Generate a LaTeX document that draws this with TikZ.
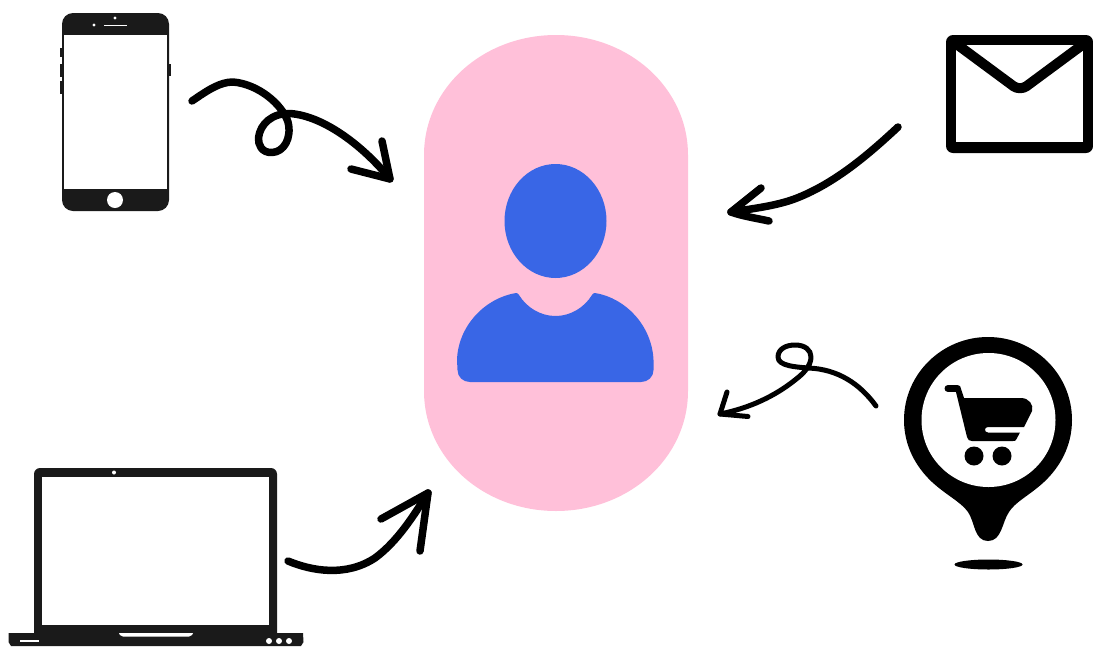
\documentclass[tikz,border=0pt]{standalone}
\definecolor{pillpink}{HTML}{FFC0D9}
\definecolor{userblue}{HTML}{3966E6}
\definecolor{devblack}{HTML}{1A1A1A}
\tikzset{
  thickarrow/.style={draw=black,line width=7.5pt,line cap=round,line join=round},
  thinarrow/.style={draw=black,line width=5pt,line cap=round,line join=round},
  dev/.style={fill=devblack,draw=none},
  hole/.style={fill=white,draw=none},
  ink/.style={fill=black,draw=none},
  blue/.style={fill=userblue,draw=none}
}
\begin{document}
\begin{tikzpicture}[x=1pt,y=-1pt]
\useasboundingbox (0,0) rectangle (1093,646);
% named anchors
\coordinate (phoneOut) at (192,101);
\coordinate (phoneIn) at (390,179);
\coordinate (laptopOut) at (288,561);
\coordinate (laptopIn) at (428,493);
\coordinate (mailOut) at (898,127);
\coordinate (mailIn) at (731,212);
\coordinate (cartOut) at (876,406);
\coordinate (cartIn) at (720,414);
% pill
\fill[pillpink] (424,155) .. controls (424,88) and (483,35) .. (556,35)
  .. controls (629,35) and (688,88) .. (688,155) -- (688,391)
  .. controls (688,458) and (629,511) .. (556,511)
  .. controls (483,511) and (424,458) .. (424,391) -- cycle;
% user
\fill[blue] (555.5,221) ellipse [x radius=51pt,y radius=57pt];
\fill[blue] (457,360) .. controls (458,326) and (485,298) .. (516,293)
  .. controls (517.5,293) and (518,293.5) .. (519,295)
  .. controls (527,308) and (541,316) .. (555.5,316)
  .. controls (570,316) and (584,308) .. (592,295)
  .. controls (593,293.5) and (593.5,293) .. (595,293)
  .. controls (626,298) and (652,326) .. (653.5,360)
  -- (653.5,370) .. controls (653.5,377) and (648,382) .. (641,382)
  -- (470,382) .. controls (463,382) and (457.5,377) .. (457.5,370) -- cycle;
% phone
\fill[dev] (60,48) rectangle (62.5,57);
\fill[dev] (60,64) rectangle (62.5,77);
\fill[dev] (60,81) rectangle (62.5,94);
\fill[dev] (168,64) rectangle (171,76);
\fill[dev,rounded corners=11pt] (62,13) rectangle (169,211);
\fill[hole] (64,35) rectangle (166.5,188.5);
\fill[hole] (115,200) circle (8pt);
\fill[hole] (115,18) circle (1.6pt);
\fill[hole] (94,25) circle (1.6pt);
\fill[hole] (104,24.5) rectangle (127,25.7);
% laptop
\fill[dev,rounded corners=6pt] (34,468) rectangle (277,640);
\fill[hole] (42,477) rectangle (269,625);
\fill[dev] (8.5,633) -- (303,633) -- (303.5,642) -- (301,646) -- (11,646) -- (8.5,642) -- cycle;
\fill[hole] (119,633) -- (193,633) -- (192,635) -- (189,636.5) -- (123,636.5) -- (120,635) -- cycle;
\fill[hole] (20,640) rectangle (39,642);
\fill[hole] (269,641) circle (3pt);
\fill[hole] (279,641) circle (3pt);
\fill[hole] (289,641) circle (3pt);
\fill[hole] (114,472.5) circle (2pt);
% envelope
\fill[ink,rounded corners=7pt] (946,35) rectangle (1093,153);
\fill[hole] (956,45) rectangle (1083,142);
\draw[black,line width=10pt,line join=round,rounded corners=8pt] (951,40) -- (1020,91) -- (1089,40);
% map pin
\fill[ink] (988,337) .. controls (1034,337) and (1072,374) .. (1072,420)
  .. controls (1072,446) and (1060,467) .. (1044,482)
  .. controls (1030,495) and (1015,502) .. (1009,512)
  .. controls (1002,522) and (1002,541) .. (988,541)
  .. controls (974,541) and (975,522) .. (968,512)
  .. controls (961,502) and (946,495) .. (932,482)
  .. controls (916,467) and (904,446) .. (904,420)
  .. controls (904,374) and (942,337) .. (988,337) -- cycle;
\fill[hole] (988.5,420) circle (67pt);
\fill[ink] (988.5,564.5) ellipse [x radius=34pt,y radius=5pt];
% cart
\draw[black,line width=7pt,line cap=round,line join=round] (948,388.5) -- (957,388.5);
\fill[ink] (956,385) -- (960,386) -- (964,398) -- (1021,398)
  .. controls (1029,398) and (1034,405) .. (1032,411)
  -- (1024,427) -- (988,427) .. controls (984,427) and (984,432.5) .. (988,432.5)
  -- (1020,432.5) -- (1016.5,439) .. controls (1015.5,441) and (1015,441) .. (1013,441)
  -- (972,441) .. controls (969,441) and (968,440) .. (967,437) -- (955,388) -- cycle;
\fill[ink] (974,456) circle (9.5pt);
\fill[ink] (1002,456) circle (9.5pt);
% arrow phone
\draw[thickarrow] (phoneOut) .. controls (208,90) and (220,82) .. (233,82)
  .. controls (258,84) and (282,104) .. (288,122)
  .. controls (292,138) and (284,152) .. (272,152.5)
  .. controls (262,153) and (258,145) .. (258.5,138)
  .. controls (260,124) and (272,113) .. (290,113.5)
  .. controls (325,116) and (365,148) .. (phoneIn);
\draw[thickarrow] (382,141) -- (phoneIn) -- (351,169);
% arrow laptop
\draw[thickarrow] (laptopOut) .. controls (312,571) and (346,577) .. (375,558)
  .. controls (398,541) and (414,515) .. (laptopIn);
\draw[thickarrow] (381,519) -- (laptopIn) -- (420,551);
% arrow mail
\draw[thickarrow] (mailOut) .. controls (868,155) and (835,183) .. (797,198)
  .. controls (777,206) and (750,209) .. (mailIn);
\draw[thickarrow] (761,188) -- (mailIn) .. controls (742,216) and (755,218) .. (769,221);
% arrow cart
\draw[thinarrow] (cartOut) .. controls (860,384) and (838,369) .. (808,368)
  .. controls (796,367) and (778,366) .. (778,357)
  .. controls (778,349) and (786,345) .. (795,345)
  .. controls (805,345) and (811,350) .. (811,357)
  .. controls (811,366) and (803,374) .. (795,380)
  .. controls (775,396) and (750,408) .. (cartIn);
\draw[thinarrow] (727,392) -- (cartIn) -- (748,416.5);
\end{tikzpicture}
\end{document}
